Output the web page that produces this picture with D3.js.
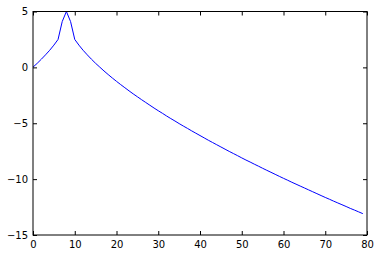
<!DOCTYPE html>
<html>
<head>
<meta charset="utf-8">
<script src="https://cdn.jsdelivr.net/npm/d3@7"></script>
<style>
body { margin:0; background:#fff; }
svg { display:block; }
.tick text { font-family: "DejaVu Sans", sans-serif; font-size:10px; fill:#000; }
</style>
</head>
<body>
<svg id="chart"></svg>
<script>
// values, one per integer x
var xValues = [];
for (var i = 0; i < 80; i++) xValues.push(i);
var yValues = [
  0.02, 0.36, 0.73, 1.12, 1.53, 1.99, 2.50, 4.10, 5.00, 4.10,
  2.50, 1.99, 1.53, 1.12, 0.73, 0.36, 0.02, -0.32, -0.64, -0.95,
  -1.25, -1.54, -1.82, -2.10, -2.37, -2.63, -2.89, -3.14, -3.39, -3.64,
  -3.88, -4.11, -4.35, -4.58, -4.80, -5.03, -5.25, -5.46, -5.68, -5.89,
  -6.10, -6.31, -6.52, -6.72, -6.92, -7.12, -7.32, -7.52, -7.71, -7.90,
  -8.10, -8.29, -8.47, -8.66, -8.84, -9.03, -9.21, -9.39, -9.57, -9.75,
  -9.93, -10.10, -10.28, -10.45, -10.62, -10.79, -10.96, -11.13, -11.30, -11.47,
  -11.64, -11.80, -11.97, -12.13, -12.29, -12.45, -12.62, -12.77, -12.93, -13.09
];
var xTicks = [0, 10, 20, 30, 40, 50, 60, 70, 80];
var yTicks = [5, 0, -5, -10, -15];

var screen = {width:380, height:256}
var box = {left:33, right:367, top:11.5, bottom:235}

var svg = d3.select("#chart")
  .attr("width", screen.width)
  .attr("height", screen.height)

var xScale = d3.scaleLinear().domain([0,80]).range([box.left, box.right])
var yScale = d3.scaleLinear().domain([-15,5]).range([box.bottom, box.top])

//----------axes, ticks inward on all four sides----------
var fmt = d3.format("d")
var bottom = svg.append("g")
  .attr("transform", "translate(0," + box.bottom + ")")
  .call(d3.axisBottom(xScale).tickValues(xTicks).tickFormat(fmt).tickSizeInner(-4).tickSizeOuter(0).tickPadding(6))
var top = svg.append("g")
  .attr("transform", "translate(0," + box.top + ")")
  .call(d3.axisTop(xScale).tickValues(xTicks).tickFormat("").tickSizeInner(-4).tickSizeOuter(0))
var left = svg.append("g")
  .attr("transform", "translate(" + box.left + ",0)")
  .call(d3.axisLeft(yScale).tickValues(yTicks).tickFormat(fmt).tickSizeInner(-4).tickSizeOuter(0).tickPadding(5))
var right = svg.append("g")
  .attr("transform", "translate(" + box.right + ",0)")
  .call(d3.axisRight(yScale).tickValues(yTicks).tickFormat("").tickSizeInner(-4).tickSizeOuter(0))

svg.selectAll(".domain").remove()
svg.selectAll(".tick line").attr("stroke", "#000")

//----------the line----------
var line = d3.line()
  .x(function(d, i) { return xScale(xValues[i]) })
  .y(function(d) { return yScale(d) })

svg.append("path")
  .datum(yValues)
  .attr("d", line)
  .attr("fill", "none")
  .attr("stroke", "#0000ff")
  .attr("stroke-width", 1)

//----------frame----------
svg.append("rect")
  .attr("x", box.left)
  .attr("y", box.top)
  .attr("width", box.right - box.left)
  .attr("height", box.bottom - box.top)
  .attr("fill", "none")
  .attr("stroke", "#000")
  .attr("stroke-width", 1)
</script>
</body>
</html>
